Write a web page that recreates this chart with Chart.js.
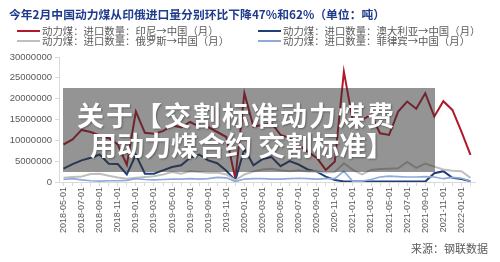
<!DOCTYPE html>
<html>
<head>
<meta charset="utf-8">
<script src="https://cdn.jsdelivr.net/npm/chart.js"></script>
<style>
body{margin:0;background:#fff;font-family:"Noto Sans CJK SC","Noto Sans",sans-serif;}
#wrap{position:relative;width:500px;height:262px;overflow:hidden;}
#c{position:absolute;left:0;top:0;}
.title{position:absolute;left:9px;top:5px;font-size:11.8px;font-weight:bold;color:#1f3b8c;white-space:nowrap;}
.leg{position:absolute;font-size:10.4px;color:#595959;white-space:nowrap;line-height:12px;}
.leg i{display:inline-block;width:23px;height:2px;vertical-align:middle;margin-right:2px;margin-top:-2px;}
.src{position:absolute;right:12px;top:240px;font-size:11px;color:#595959;}
.over{position:absolute;left:63px;top:88px;width:372px;height:84px;background:rgba(50,50,50,0.52);}
.big{position:absolute;color:#fff;font-weight:bold;font-size:27px;white-space:nowrap;line-height:30px;text-shadow:1px 1px 2px rgba(0,0,0,0.35);}
</style>
</head>
<body>
<div id="wrap">
<canvas id="c" width="500" height="262"></canvas>
<div class="title">今年2月中国动力煤从印俄进口量分别环比下降47%和62%（单位：吨）</div>
<div class="leg" style="left:17px;top:25px"><i style="background:#b2182b"></i>动力煤：进口数量：印尼→中国（月）</div>
<div class="leg" style="left:17px;top:35px"><i style="background:#bfbfbf"></i>动力煤：进口数量：俄罗斯→中国（月）</div>
<div class="leg" style="left:258px;top:25px"><i style="background:#203e78"></i>动力煤：进口数量：澳大利亚→中国（月）</div>
<div class="leg" style="left:258px;top:35px"><i style="background:#8eaadb"></i>动力煤：进口数量：菲律宾→中国（月）</div>
<div class="over"></div>
<div class="big" style="left:77px;top:100px;letter-spacing:2px">关于【交割标准动力煤费</div>
<div class="big" style="left:90px;top:130px">用动力煤合约 交割标准】</div>
<div class="src">来源：钢联数据</div>
</div>
<script>
// months 2018-05 .. 2022-02
var months = ["2018-05-01","2018-06-01","2018-07-01","2018-08-01","2018-09-01","2018-10-01","2018-11-01","2018-12-01",
  "2019-01-01","2019-02-01","2019-03-01","2019-04-01","2019-05-01","2019-06-01","2019-07-01","2019-08-01","2019-09-01","2019-10-01","2019-11-01","2019-12-01",
  "2020-01-01","2020-02-01","2020-03-01","2020-04-01","2020-05-01","2020-06-01","2020-07-01","2020-08-01","2020-09-01","2020-10-01","2020-11-01","2020-12-01",
  "2021-01-01","2021-02-01","2021-03-01","2021-04-01","2021-05-01","2021-06-01","2021-07-01","2021-08-01","2021-09-01","2021-10-01","2021-11-01","2021-12-01",
  "2022-01-01","2022-02-01"];

var indonesia = [9000000,10200000,12500000,12000000,11200000,10500000,9000000,4100000,
  16900000,11800000,11600000,12200000,13600000,13100000,14400000,13300000,13200000,12000000,10800000,800000,
  21300000,13300000,13700000,14100000,11300000,10600000,8900000,7300000,5800000,2900000,4900000,26500000,
  14500000,14900000,16100000,11700000,11300000,16900000,19300000,17600000,21300000,15700000,19400000,17300000,
  12100000,6500000];

var australia = [3200000,4300000,5200000,5800000,6600000,4400000,4300000,1800000,
  6500000,2000000,2000000,2800000,3600000,4000000,5800000,6600000,5200000,4500000,2700000,400000,
  8000000,4000000,5500000,6000000,3800000,5000000,4200000,3000000,2500000,1300000,500000,150000,
  100000,100000,100000,100000,100000,100000,100000,100000,100000,2100000,2600000,1000000,
  700000,200000];

var russia = [1000000,1200000,1300000,1900000,2000000,1500000,1100000,800000,
  1000000,1200000,1400000,1800000,2400000,2000000,2600000,2400000,2200000,2300000,1800000,400000,
  1800000,2500000,3000000,3200000,2800000,2600000,2800000,2500000,2600000,2300000,2400000,4500000,
  2900000,1800000,2900000,3100000,3200000,3300000,4800000,3400000,4400000,3700000,3000000,2700000,
  2600000,1000000];

var philippines = [600000,800000,500000,300000,200000,300000,300000,400000,
  800000,600000,500000,600000,700000,700000,800000,700000,800000,1100000,1000000,100000,
  700000,800000,800000,700000,700000,800000,900000,800000,700000,800000,800000,2600000,
  100000,200000,600000,1200000,1400000,1300000,1200000,1200000,1300000,1200000,800000,1100000,
  900000,200000];

var yTicks = [0,5000000,10000000,15000000,20000000,25000000,30000000];

function line(d, col, w){
  return {data:d, borderColor:col, borderWidth:w, pointRadius:0, tension:0, fill:false};
}

new Chart(document.getElementById("c"), {
  type: "line",
  data: {
    labels: months,
    datasets: [
      line(philippines, "#8eaadb", 1.6),
      line(russia, "#bfbfbf", 2),
      line(australia, "#203e78", 2),
      line(indonesia, "#b2182b", 2)
    ]
  },
  options: {
    responsive: false,
    animation: false,
    layout: {padding: {top: 57, right: 25, left: 0, bottom: 0}},
    plugins: {legend: {display: false}, tooltip: {enabled: false}},
    scales: {
      x: {
        offset: true,
        afterFit: function(s){ s.height = 80; },
        border: {color: "#d9d9d9"},
        grid: {drawOnChartArea: false, tickLength: 4, color: "#d9d9d9"},
        ticks: {
          autoSkip: false, minRotation: 90, maxRotation: 90, padding: 1,
          color: "#595959", font: {size: 9, family: "Liberation Sans"},
          callback: function(v, i){ return i % 2 === 0 ? months[i] : ""; }
        }
      },
      y: {
        min: 0, max: 30000000,
        afterFit: function(s){ s.width = 59; },
        afterBuildTicks: function(s){ s.ticks = yTicks.map(function(v){ return {value: v}; }); },
        border: {color: "#d9d9d9"},
        grid: {drawOnChartArea: false, tickLength: 4, color: "#d9d9d9"},
        ticks: {color: "#595959", padding: 3, font: {size: 9.5, family: "Liberation Sans"},
          callback: function(v){ return String(v); }}
      }
    }
  }
});
</script>
</body>
</html>
